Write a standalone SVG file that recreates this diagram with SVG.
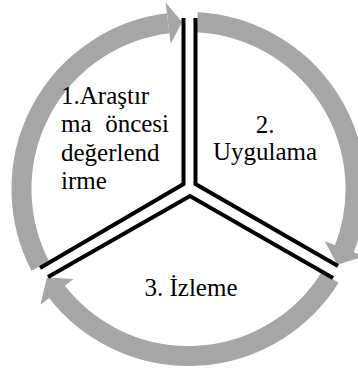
<svg xmlns="http://www.w3.org/2000/svg" width="358" height="370" viewBox="0 0 358 370">
<style>
.band{fill:none;stroke:#a6a6a6;stroke-width:20;stroke-linecap:butt}
.head{fill:#a6a6a6;stroke:none}
.div{fill:none;stroke:#000;stroke-width:4;stroke-linejoin:miter;stroke-linecap:butt}
.t{font-family:"Liberation Serif","Times New Roman",serif;font-size:25px;fill:#000}
</style>
<rect width="358" height="370" fill="#fff"/>
<g id="connectors">
<path class="band" d="M 40.3 266.1 A 167 167 0 0 1 168.1 23.3"/>
<polygon class="head" points="170.7,44.1 165.6,2.4 182.1,22.1"/>
<path class="band" d="M 197.2 22.2 A 167 167 0 0 1 343.9 250.2"/>
<polygon class="head" points="324.8,241.3 364.0,256.4 337.3,264.8"/>
<path class="band" d="M 330.1 277.5 A 167 167 0 0 1 56.0 290.7"/>
<polygon class="head" points="73.5,278.9 40.4,304.7 46.9,277.5"/>
</g>
<g id="dividers">
<polyline class="div" points="183.5,18 183.5,184 40,268"/>
<polyline class="div" points="195.5,18 195.5,184 338,266"/>
<polyline class="div" points="48,277 190,196 333,278"/>
</g>
<g id="node1">
<text class="t" x="61" y="104">1.Araştır</text>
<text class="t" x="61" y="132">ma</text>
<text class="t" x="169" y="132" text-anchor="end">öncesi</text>
<text class="t" x="61" y="161">değerlend</text>
<text class="t" x="61" y="189">irme</text>
</g>
<g id="node2">
<text class="t" x="265" y="133" text-anchor="middle">2.</text>
<text class="t" x="265" y="160" text-anchor="middle">Uygulama</text>
</g>
<g id="node3">
<text class="t" x="191" y="296" text-anchor="middle">3. İzleme</text>
</g>
</svg>
